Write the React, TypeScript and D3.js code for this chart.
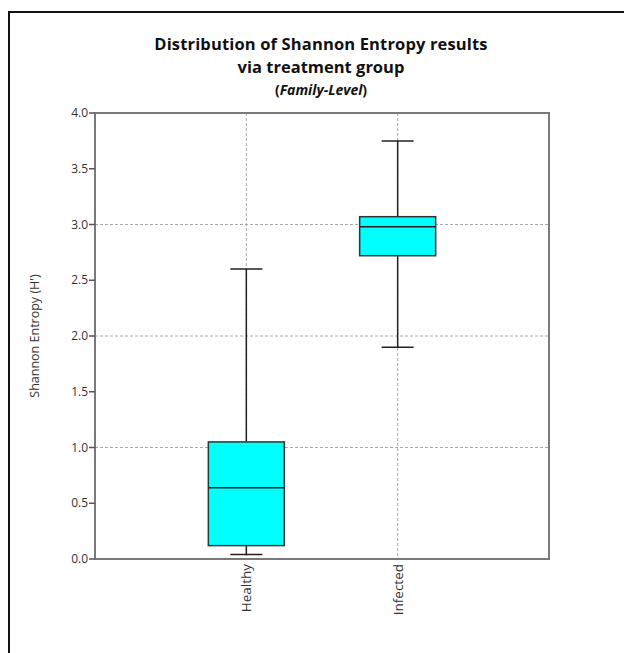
import React from "react";
import * as d3 from "d3";

const categories = ["Healthy", "Infected"];
const whiskerLow = [0.04, 1.9];
const q1 = [0.12, 2.72];
const median = [0.64, 2.98];
const q3 = [1.05, 3.07];
const whiskerHigh = [2.6, 3.75];
const yTicks = [0, 0.5, 1, 1.5, 2, 2.5, 3, 3.5, 4];
const gridValues = [1, 2, 3];
const titleLines = ["Distribution of Shannon Entropy results", "via treatment group"];
const subtitle = "Family-Level";
const yTitle = "Shannon Entropy (H')";

const W = 624;
const H = 653;
const left = 95;
const right = 549;
const top = 113;
const bottom = 559;

export default function App() {
  const x = d3.scalePoint<string>().domain(categories).range([left, right]).padding(1);
  const y = d3.scaleLinear().domain([0, 4]).range([bottom, top]);
  const boxW = 76;
  const capW = 32;
  const font = "'Open Sans', 'DejaVu Sans', sans-serif";

  return (
    <svg
      width={W}
      height={H}
      style={{ position: "absolute", left: 0, top: 0, background: "#fff" }}
    >
      <rect x={0} y={0} width={W} height={H} fill="#fff" />
      {/* outer frame */}
      <path d={`M9,${H + 5} L9,12 L${W + 5},12`} fill="none" stroke="#111" strokeWidth={2} />

      {/* title */}
      <g fontFamily={font} fontWeight="bold" fill="#111" textAnchor="middle">
        <text x={321} y={50} fontSize={16.5} letterSpacing={0.15}>{titleLines[0]}</text>
        <text x={321} y={73} fontSize={16.5}>{titleLines[1]}</text>
        <text x={321} y={95} fontSize={14}>
          (<tspan fontStyle="italic">{subtitle}</tspan>)
        </text>
      </g>

      {/* grid */}
      <g stroke="#a8a8a8" strokeWidth={1} strokeDasharray="3,2">
        {gridValues.map((v) => (
          <line key={"gy" + v} x1={left} x2={right} y1={y(v)} y2={y(v)} />
        ))}
        {categories.map((c) => (
          <line key={"gx" + c} x1={x(c)} x2={x(c)} y1={top} y2={bottom} />
        ))}
      </g>

      {/* boxes */}
      {categories.map((c, i) => {
        const cx = x(c)!;
        return (
          <g key={c}>
            <line x1={cx} x2={cx} y1={y(whiskerHigh[i])} y2={y(q3[i])} stroke="#222" strokeWidth={1.5} />
            <line x1={cx} x2={cx} y1={y(q1[i])} y2={y(whiskerLow[i])} stroke="#222" strokeWidth={1.5} />
            <line x1={cx - capW / 2} x2={cx + capW / 2} y1={y(whiskerHigh[i])} y2={y(whiskerHigh[i])} stroke="#222" strokeWidth={1.5} />
            <line x1={cx - capW / 2} x2={cx + capW / 2} y1={y(whiskerLow[i])} y2={y(whiskerLow[i])} stroke="#222" strokeWidth={1.5} />
            <rect
              x={cx - boxW / 2}
              y={y(q3[i])}
              width={boxW}
              height={y(q1[i]) - y(q3[i])}
              fill="#00ffff"
              stroke="#333"
              strokeWidth={1.5}
            />
            <line x1={cx - boxW / 2} x2={cx + boxW / 2} y1={y(median[i])} y2={y(median[i])} stroke="#222" strokeWidth={1.5} />
          </g>
        );
      })}

      {/* plot frame */}
      <rect x={left} y={top} width={right - left} height={bottom - top} fill="none" stroke="#7a7a7a" strokeWidth={2} />

      {/* y ticks */}
      <g fontFamily={font} fontSize={12} fill="#333">
        {yTicks.map((t) => (
          <g key={t}>
            <line x1={left - 6} x2={left} y1={y(t)} y2={y(t)} stroke="#555" strokeWidth={1.5} />
            <text x={left - 7} y={y(t)} dy="0.35em" textAnchor="end">
              {d3.format(".1f")(t)}
            </text>
          </g>
        ))}
      </g>

      {/* y title */}
      <text
        transform={`translate(39,${(top + bottom) / 2}) rotate(-90)`}
        textAnchor="middle"
        fontFamily={font}
        fontSize={12.5}
        fill="#333"
      >
        {yTitle}
      </text>

      {/* x labels */}
      <g fontFamily={font} fontSize={13.5} fill="#333">
        {categories.map((c) => (
          <text
            key={c}
            transform={`translate(${x(c)! + 5},${bottom + 5}) rotate(-90)`}
            textAnchor="end"
          >
            {c}
          </text>
        ))}
      </g>
    </svg>
  );
}
